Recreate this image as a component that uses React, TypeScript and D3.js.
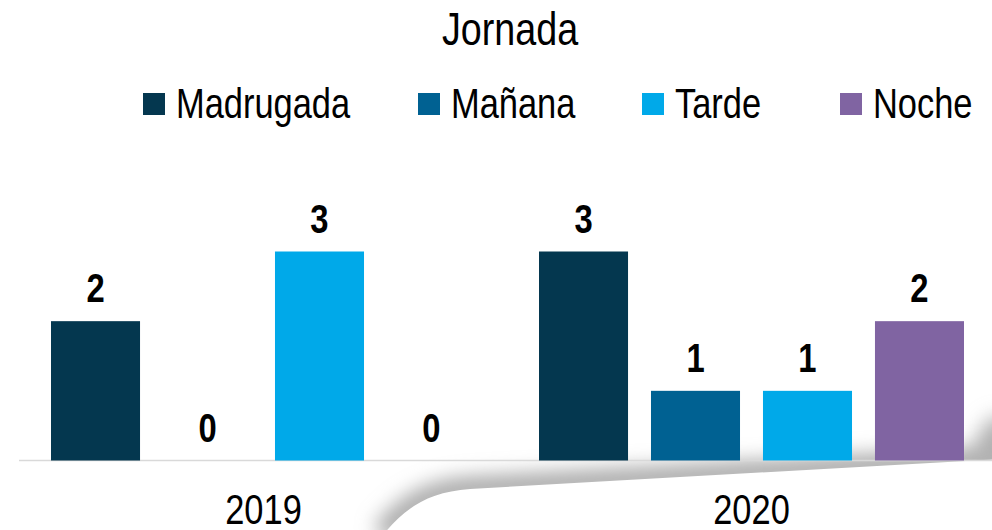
import * as d3 from "d3";
import type { ReactNode } from "react";

const years = ["2019", "2020"];
const series = ["Madrugada", "Mañana", "Tarde", "Noche"];
const madrugada = [2, 3];
const manana = [0, 1];
const tarde = [3, 1];
const noche = [0, 2];
const seriesValues = [madrugada, manana, tarde, noche];
const colors = ["#04374f", "#006192", "#00a9e9", "#8064a2"];

const width = 992;
const height = 530;
const font = "'Liberation Sans', Arial, sans-serif";
// legend squares' left edges
const legendX = [143, 418, 642, 840];

// Arial Narrow is not installed: squeeze Liberation Sans instead
const Narrow = ({
  x,
  y,
  size,
  anchor = "start",
  bold = false,
  children,
}: {
  x: number;
  y: number;
  size: number;
  anchor?: "start" | "middle" | "end";
  bold?: boolean;
  children: ReactNode;
}) => (
  <text
    transform={`translate(${x},${y}) scale(0.82,1)`}
    textAnchor={anchor}
    fontSize={size}
    fontWeight={bold ? "bold" : "normal"}
    fill="#000"
  >
    {children}
  </text>
);

const App = () => {
  const x0 = d3.scaleBand().domain(years).range([19.5, 995.5]).padding(0);
  const x1 = d3
    .scaleBand()
    .domain(series)
    .range([31.5, x0.bandwidth() - 31.5])
    .paddingInner(0.205);
  const y = d3.scaleLinear().domain([0, 3]).range([460.5, 251.5]);

  // curled page edge under the axis
  const edge = "M 383,535 C 405,508 428,492 470,489 L 1000,459";

  return (
    <svg
      width={width}
      height={height}
      style={{ position: "absolute", left: 0, top: 0, background: "white" }}
      fontFamily={font}
    >
      <defs>
        <filter id="blur" x="-20%" y="-50%" width="140%" height="200%">
          <feGaussianBlur stdDeviation="10" />
        </filter>
        <clipPath id="above">
          <path d={`${edge} L 1010,459 L 1010,380 L 250,380 L 250,535 Z`} />
        </clipPath>
      </defs>

      <g clipPath="url(#above)">
        <path d={edge} fill="none" stroke="#a6a6a6" strokeWidth={24} filter="url(#blur)" />
        <ellipse cx={1002} cy={450} rx={26} ry={34} fill="#b0b0b0" filter="url(#blur)" />
      </g>

      <line x1={19} x2={width} y1={460.5} y2={460.5} stroke="#d9d9d9" strokeWidth={1.5} />

      <Narrow x={510} y={45} size={46} anchor="middle">
        Jornada
      </Narrow>

      {series.map((s, i) => (
        <g key={s}>
          <rect x={legendX[i]} y={93} width={22} height={22} fill={colors[i]} />
          <Narrow x={legendX[i] + 33} y={118} size={42}>
            {s}
          </Narrow>
        </g>
      ))}

      {years.map((yr, j) => (
        <g key={yr} transform={`translate(${x0(yr)},0)`}>
          {series.map((s, i) => {
            const v = seriesValues[i][j];
            const bx = x1(s) ?? 0;
            return (
              <g key={s}>
                <rect
                  x={bx}
                  y={y(v)}
                  width={x1.bandwidth()}
                  height={y(0) - y(v)}
                  fill={colors[i]}
                />
                <Narrow x={bx + x1.bandwidth() / 2} y={y(v) - 19} size={40} anchor="middle" bold>
                  {v}
                </Narrow>
              </g>
            );
          })}
          <Narrow x={x0.bandwidth() / 2} y={524} size={42} anchor="middle">
            {yr}
          </Narrow>
        </g>
      ))}
    </svg>
  );
};

export default App;
